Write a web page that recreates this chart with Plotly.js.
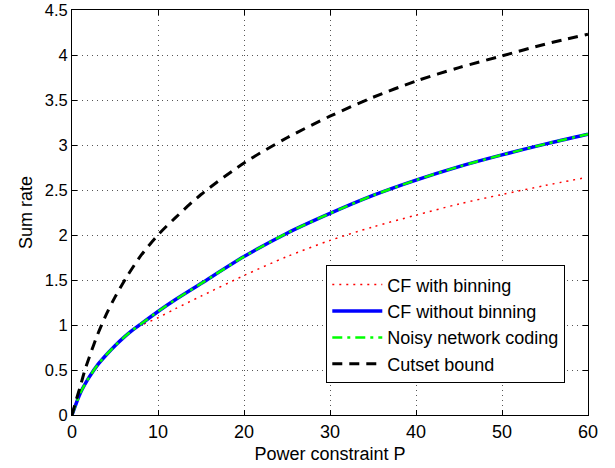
<!DOCTYPE html>
<html>
<head>
<meta charset="utf-8">
<script src="https://cdn.plot.ly/plotly-3.0.1.min.js"></script>
<style>html,body{margin:0;padding:0;background:#fff}#chart{width:615px;height:468px}</style>
</head>
<body>
<div id="chart"></div>
<script>
// Data
const pBin = [0, 1, 2, 3, 4, 5, 6, 7, 8, 10, 12, 15, 20, 25, 30, 35, 40, 45, 50, 55, 59.3];
const rateBin = [0, 0.25, 0.42, 0.56, 0.67, 0.77, 0.86, 0.94, 0.995, 1.08, 1.18, 1.32, 1.55, 1.76, 1.94, 2.09, 2.22, 2.345, 2.45, 2.55, 2.63];

const pNoBin = [0, 1, 2, 3, 4, 5, 6, 7, 8, 10, 12, 15, 20, 25, 30, 35, 40, 45, 50, 55, 60];
const rateNoBin = [0, 0.25, 0.42, 0.56, 0.67, 0.77, 0.86, 0.94, 1.01, 1.15, 1.28, 1.46, 1.76, 2.02, 2.24, 2.44, 2.61, 2.76, 2.89, 3.01, 3.12];

const pNnc = pNoBin;
const rateNnc = rateNoBin;

const pCut = [0, 0.5, 1, 1.5, 2, 3, 4, 5, 6.4, 8, 10, 12, 15, 20, 25, 30, 35, 40, 45, 50, 55, 60];
const rateCut = [0, 0.17, 0.33, 0.5, 0.64, 0.9, 1.12, 1.31, 1.54, 1.77, 2.0, 2.19, 2.45, 2.8, 3.08, 3.32, 3.53, 3.71, 3.86, 3.99, 4.12, 4.23];

const xTicks = [0, 10, 20, 30, 40, 50, 60];
const yTicks = [0, 0.5, 1, 1.5, 2, 2.5, 3, 3.5, 4, 4.5];
const yTickText = ['0', '0.5', '1', '1.5', '2', '2.5', '3', '3.5', '4', '4.5'];
const seriesNames = ['CF with binning', 'CF without binning', 'Noisy network coding', 'Cutset bound'];

const FONT = 'Liberation Sans, Arial, Helvetica, sans-serif';

const traces = [
  {x: pBin, y: rateBin, name: seriesNames[0], mode: 'lines', line: {color: '#ff0000', width: 1.5, dash: '2px,5px', shape: 'spline', smoothing: 0.8}, legendgroup: 'a'},
  {x: pNoBin, y: rateNoBin, name: seriesNames[1], mode: 'lines', line: {color: '#0000ff', width: 3.5, shape: 'spline', smoothing: 0.8}, legendgroup: 'b'},
  {x: pNnc, y: rateNnc, name: seriesNames[2], mode: 'lines', line: {color: '#00ff00', width: 2.5, dash: '10px,5px,3px,5px', shape: 'spline', smoothing: 0.8}, legendgroup: 'c'},
  {x: pCut, y: rateCut, name: seriesNames[3], mode: 'lines', line: {color: '#000000', width: 3, dash: '10px,7px', shape: 'spline', smoothing: 0.8}, legendgroup: 'd'}
];

const axisCommon = {
  showline: true, linecolor: '#000', linewidth: 1, mirror: 'ticks',
  ticks: 'inside', ticklen: 5, tickcolor: '#000',
  showgrid: true, gridcolor: '#555', gridwidth: 1, griddash: '1px,4px',
  zeroline: false, tickfont: {family: FONT, size: 18, color: '#000'},
  ticklabeloverflow: 'allow'
};

const layout = {
  width: 615, height: 468,
  paper_bgcolor: '#fff', plot_bgcolor: '#fff',
  margin: {l: 71.5, r: 26.5, t: 10, b: 53, pad: 0},
  font: {family: FONT, size: 18, color: '#000'},
  xaxis: Object.assign({}, axisCommon, {
    range: [0, 60], tickvals: xTicks, ticktext: xTicks.map(String),
    title: {text: 'Power constraint P', font: {family: FONT, size: 18, color: '#000'}, standoff: 6},
    automargin: false
  }),
  yaxis: Object.assign({}, axisCommon, {
    range: [0, 4.5], tickvals: yTicks, ticktext: yTickText,
    tickfont: {family: FONT, size: 16.5, color: '#000'},
    title: {text: 'Sum rate', font: {family: FONT, size: 18, color: '#000'}, standoff: 7},
    automargin: false
  }),
  showlegend: true,
  legend: {
    x: 0.956, y: 0.078, xanchor: 'right', yanchor: 'bottom',
    bgcolor: '#fff', bordercolor: '#000', borderwidth: 1,
    font: {family: FONT, size: 18, color: '#000'},
    traceorder: 'normal', itemwidth: 50
  }
};

Plotly.newPlot('chart', traces, layout, {staticPlot: true, displayModeBar: false});
</script>
</body>
</html>
